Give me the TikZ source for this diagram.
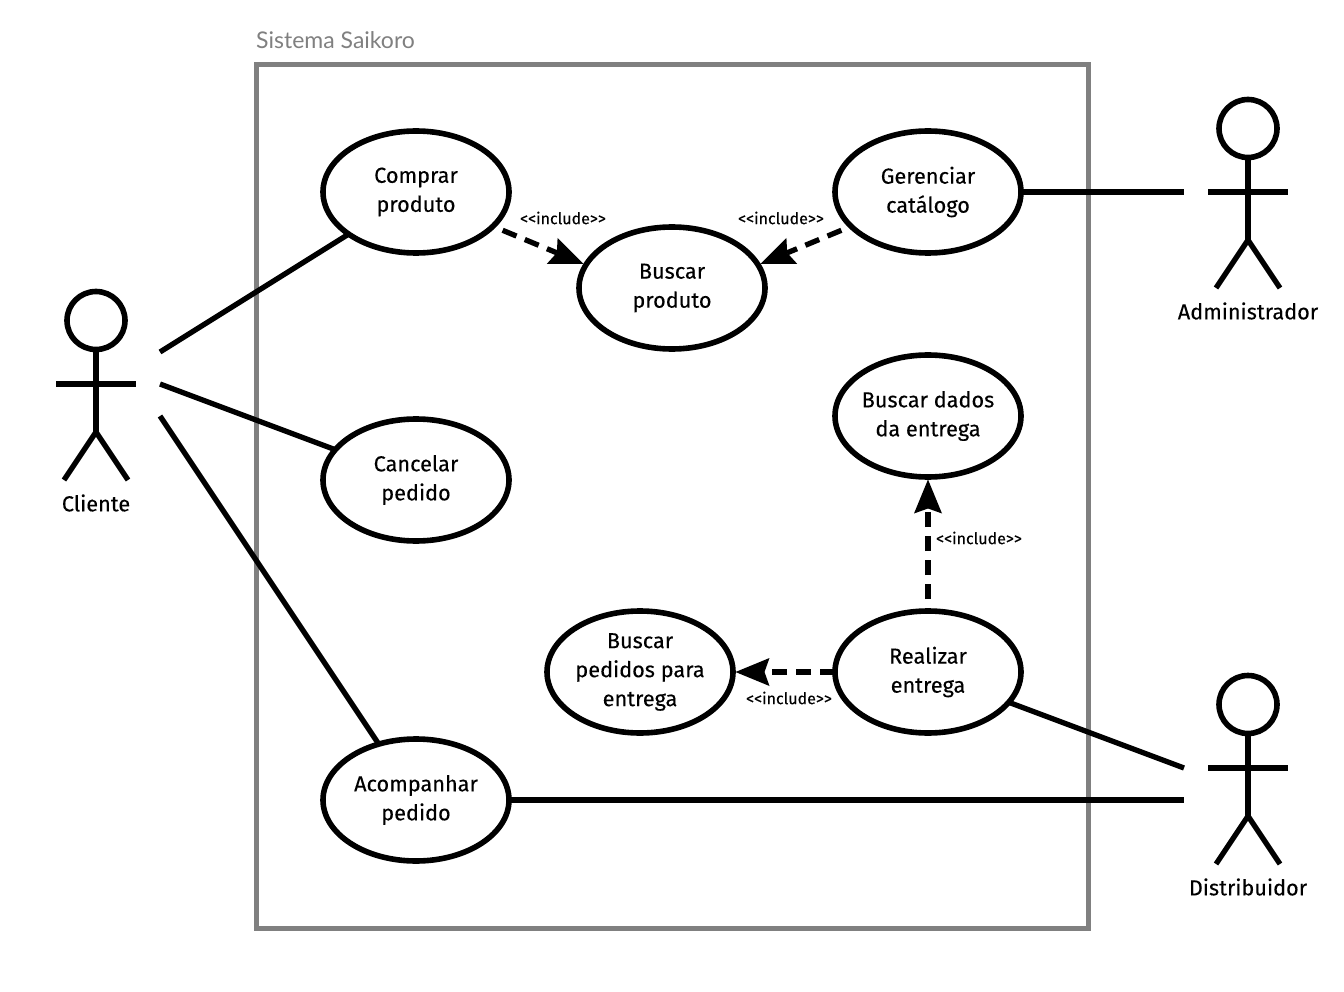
\documentclass[tikz,border=0pt]{standalone}
\usepackage{fontspec}
\setmainfont[FakeBold=0.25,Ligatures=NoCommon]{Fira Sans}
\newfontfamily\titlefont{Lato}
\usetikzlibrary{arrows.meta,shapes.geometric}
\tikzset{
  usecase/.style={ellipse,draw=black,line width=5.6pt,fill=white,minimum width=186pt,minimum height=122pt,inner sep=-30pt,outer sep=0pt,align=center,font=\fontsize{21.7}{29}\selectfont},
  assoc/.style={line width=5.3pt,draw=black},
  incl/.style={line width=5.3pt,draw=black,dash pattern=on 15pt off 9pt,-{Stealth[length=34pt,width=28pt,inset=5pt,line width=0pt]},shorten >=2.5pt},
  incllabel/.style={font=\fontsize{16}{18}\selectfont,inner sep=0pt},
  actorlabel/.style={font=\fontsize{21.7}{26}\selectfont,inner sep=0pt},
  limb/.style={line width=5.3pt,draw=black},
  head/.style={circle,draw=black,line width=5.6pt,minimum size=58pt,inner sep=0pt,outer sep=0pt,fill=white}
}
\newcommand{\stickman}[4]{% name, x, y of arm line, label
  \coordinate (#1arm) at (#2,#3);
  \node[head] (#1head) at (#2,#3-63.5) {};
  \coordinate (#1hip) at (#2,#3+48);
  \draw[limb] (#1head.south) -- (#1hip);
  \draw[limb] (#2-40,#3) -- (#2+40,#3);
  \draw[limb,line join=miter] (#2-32,#3+96) -- (#1hip) -- (#2+32,#3+96);
  \node[actorlabel] (#1label) at (#2,#3+119) {#4};
}
\begin{document}
\begin{tikzpicture}[x=1pt,y=-1pt]
\useasboundingbox (0,0) rectangle (1344,992);
\draw[line width=5pt,draw=black!50] (256,65) rectangle (1088,928);
\node[anchor=base west,inner sep=0pt,text=black!50,font=\titlefont\fontsize{23}{26}\selectfont] (title) at (256,49) {Sistema Saikoro};

\node[usecase] (comprar) at (416,192) {Comprar\\produto};
\node[usecase] (cancelar) at (416,480) {Cancelar\\pedido};
\node[usecase] (acomp) at (416,800) {Acompanhar\\pedido};
\node[usecase] (buscarprod) at (672,288) {Buscar\\produto};
\node[usecase] (gerenciar) at (928,192) {Gerenciar\\catálogo};
\node[usecase] (dados) at (928,416) {Buscar dados\\da entrega};
\node[usecase] (realizar) at (928,672) {Realizar\\entrega};
\node[usecase] (pedidos) at (640,672) {Buscar\\pedidos para\\entrega};

\stickman{cli}{96}{384}{Cliente}
\stickman{adm}{1248}{192}{Administrador}
\stickman{dis}{1248}{768}{Distribuidor}

\coordinate (cliA) at (160,352);
\coordinate (cliB) at (160,384);
\coordinate (cliC) at (160,416);
\coordinate (admA) at (1184,192);
\coordinate (disA) at (1184,768);
\coordinate (disB) at (1184,800);

\draw[assoc] (cliA) -- (comprar);
\draw[assoc] (cliB) -- (cancelar);
\draw[assoc] (cliC) -- (acomp);
\draw[assoc] (gerenciar) -- (admA);
\draw[assoc] (realizar) -- (disA);
\draw[assoc] (acomp) -- (disB);

\draw[incl,dash phase=13.5pt] (comprar.-24) -- (buscarprod.165);
\draw[incl,dash phase=13.5pt] (gerenciar.204) -- (buscarprod.15);
\draw[incl,dash phase=12pt] (realizar) -- (dados);
\draw[incl] (realizar) -- (pedidos);

\node[incllabel] (l1) at (563,218) {{<}{<}include{>}{>}};
\node[incllabel] (l2) at (781,218) {{<}{<}include{>}{>}};
\node[incllabel] (l3) at (979,538) {{<}{<}include{>}{>}};
\node[incllabel] (l4) at (789,698) {{<}{<}include{>}{>}};
\end{tikzpicture}
\end{document}
